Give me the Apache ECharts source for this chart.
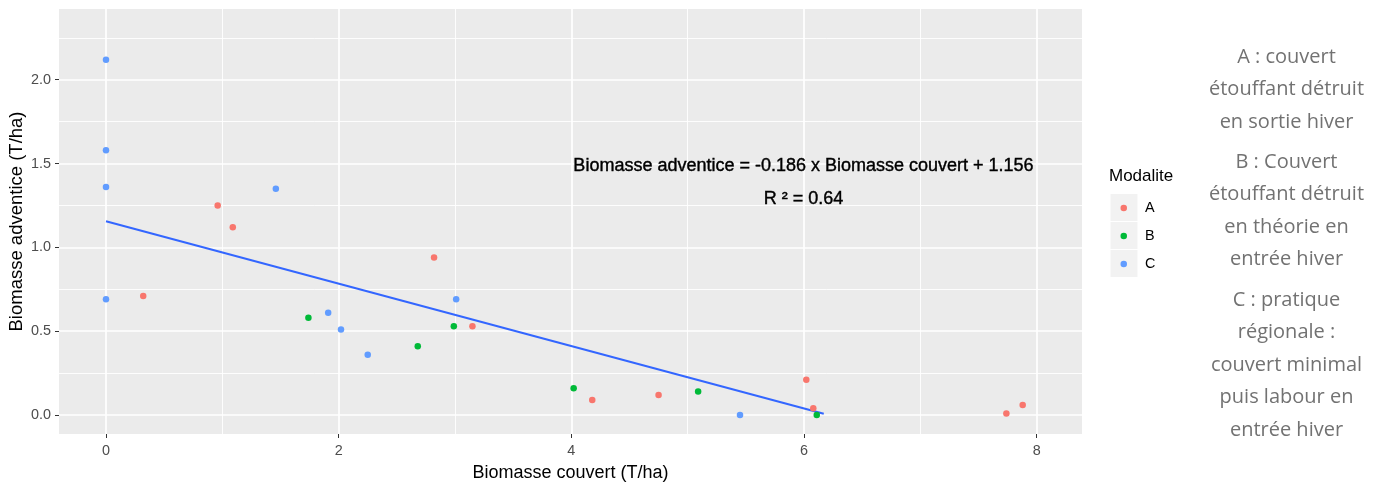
<!DOCTYPE html>
<html>
<head>
<meta charset="utf-8">
<script src="https://cdn.jsdelivr.net/npm/echarts@6/dist/echarts.min.js"></script>
<style>
html,body{margin:0;padding:0;background:#fff;}
#chart{width:1384px;height:484px;}
</style>
</head>
<body>
<div id="chart"></div>
<script>
// ---- data ----
const modalites = ['A', 'B', 'C'];
const aX = [0.32, 0.96, 1.09, 2.82, 3.15, 4.18, 4.75, 6.02, 6.08, 7.74, 7.88];
const aY = [0.71, 1.25, 1.12, 0.94, 0.53, 0.09, 0.12, 0.21, 0.04, 0.01, 0.06];
const bX = [1.74, 2.68, 2.99, 4.02, 5.09, 6.11];
const bY = [0.58, 0.41, 0.53, 0.16, 0.14, 0.00];
const cX = [0, 0, 0, 0, 1.46, 1.91, 2.02, 2.25, 3.01, 5.45];
const cY = [2.12, 1.58, 1.36, 0.69, 1.35, 0.61, 0.51, 0.36, 0.69, 0.00];
const fitX = [0, 6.17];
const fitY = [1.156, 0.008];
const xTicks = [0, 2, 4, 6, 8];
const xMinor = [1, 3, 5, 7];
const yTicks = [0, 0.5, 1.0, 1.5, 2.0];
const yMinor = [0.25, 0.75, 1.25, 1.75, 2.25];
const equation = 'Biomasse adventice = -0.186 x Biomasse couvert + 1.156';
const r2Text = 'R ² = 0.64';
const notes = [
  ['A : couvert', 'étouffant détruit', 'en sortie hiver'],
  ['B : Couvert', 'étouffant détruit', 'en théorie en', 'entrée hiver'],
  ['C : pratique', 'régionale :', 'couvert minimal', 'puis labour en', 'entrée hiver']
];

const zip = (xs, ys) => xs.map((x, i) => [x, ys[i]]);
const FONT = "'Liberation Sans', Arial, sans-serif";
const colors = ['#F8766D', '#00BA38', '#619CFF'];

const chart = echarts.init(document.getElementById('chart'), null, {renderer: 'canvas'});

const gridLine = (vals, key) => vals.map(v => ({[key]: v}));

const option = {
  animation: false,
  backgroundColor: '#ffffff',
  grid: {left: 59, top: 9, right: 302, bottom: 50, show: true, backgroundColor: '#EBEBEB', borderWidth: 0,
         containLabel: false, outerBoundsMode: 'none'},
  xAxis: {
    type: 'value', min: -0.404, max: 8.39,
    axisLine: {show: false, onZero: false},
    splitLine: {show: false},
    axisTick: {show: true, length: 4, lineStyle: {color: '#333333', width: 1}, customValues: xTicks},
    axisLabel: {customValues: xTicks, color: '#4D4D4D', fontSize: 14.4, fontFamily: FONT, margin: 10, formatter: v => String(v)},
    name: 'Biomasse couvert (T/ha)', nameLocation: 'middle', nameGap: 30,
    nameTextStyle: {color: '#000', fontSize: 18, fontFamily: FONT}
  },
  yAxis: {
    type: 'value', min: -0.113, max: 2.422,
    axisLine: {show: false, onZero: false},
    splitLine: {show: false},
    axisTick: {show: true, length: 4, lineStyle: {color: '#333333', width: 1}, customValues: yTicks},
    axisLabel: {customValues: yTicks, color: '#4D4D4D', fontSize: 14.4, fontFamily: FONT, margin: 8, formatter: v => v.toFixed(1)},
    name: 'Biomasse adventice (T/ha)', nameLocation: 'middle', nameGap: 33, nameRotate: 90, nameMoveOverlap: false,
    nameTextStyle: {color: '#000', fontSize: 18.5, fontFamily: FONT}
  },
  legend: {
    data: modalites, orient: 'vertical', left: 1120.5, top: 194, padding: 0, itemGap: 0,
    icon: 'circle', itemWidth: 6.5, itemHeight: 6.5, selectedMode: false,
    textStyle: {fontSize: 14.4, fontFamily: FONT, color: '#000', lineHeight: 28, padding: [0, 0, 0, 13]}
  },
  title: {text: 'Modalite', left: 1109, top: 168, padding: 0,
    textStyle: {fontSize: 17, fontWeight: 'normal', fontFamily: FONT, color: '#000'}},
  series: [
    {name: 'gridMinor', type: 'line', data: [], silent: true, z: 1,
     markLine: {z: 1, silent: true, symbol: ['none', 'none'], label: {show: false}, animation: false,
       lineStyle: {color: '#ffffff', type: 'solid', width: 0.9},
       data: gridLine(xMinor, 'xAxis').concat(gridLine(yMinor, 'yAxis'))}},
    {name: 'gridMajor', type: 'line', data: [], silent: true, z: 1,
     markLine: {z: 1, silent: true, symbol: ['none', 'none'], label: {show: false}, animation: false,
       lineStyle: {color: '#ffffff', type: 'solid', width: 1.7},
       data: gridLine(xTicks, 'xAxis').concat(gridLine(yTicks, 'yAxis'))}},
    {name: 'fit', type: 'line', data: zip(fitX, fitY), symbol: 'none', z: 3,
     lineStyle: {color: '#3366FF', width: 2}, itemStyle: {color: '#3366FF'}},
    {name: 'A', type: 'scatter', data: zip(aX, aY), symbolSize: 6.5, z: 4, itemStyle: {color: colors[0], opacity: 1}},
    {name: 'B', type: 'scatter', data: zip(bX, bY), symbolSize: 6.5, z: 4, itemStyle: {color: colors[1], opacity: 1}},
    {name: 'C', type: 'scatter', data: zip(cX, cY), symbolSize: 6.5, z: 4, itemStyle: {color: colors[2], opacity: 1}}
  ]
};
chart.setOption(option);

// decorations: legend key boxes, annotation, side notes
const graphics = [];
[194, 222, 250].forEach(y => graphics.push({type: 'rect', z: 0, shape: {x: 1110.5, y: y, width: 27, height: 27}, style: {fill: '#F2F2F2'}}));
graphics.push({type: 'text', z: 10, x: 803.5, y: 166, style: {text: equation, font: '18px ' + FONT, fill: '#000', align: 'center', verticalAlign: 'middle', stroke: '#000', lineWidth: 0.4}});
graphics.push({type: 'text', z: 10, x: 803.5, y: 199, style: {text: r2Text, font: '18px ' + FONT, fill: '#000', align: 'center', verticalAlign: 'middle', stroke: '#000', lineWidth: 0.4}});
const noteTops = [41, 146, 284];
notes.forEach((lines, i) => {
  graphics.push({type: 'text', z: 10, x: 1286.5, y: noteTops[i], style: {text: lines.join('\n'), font: "20px 'Open Sans', sans-serif", fill: '#727272', align: 'center', verticalAlign: 'top', lineHeight: 32.5}});
});
chart.setOption({graphic: graphics});
</script>
</body>
</html>
